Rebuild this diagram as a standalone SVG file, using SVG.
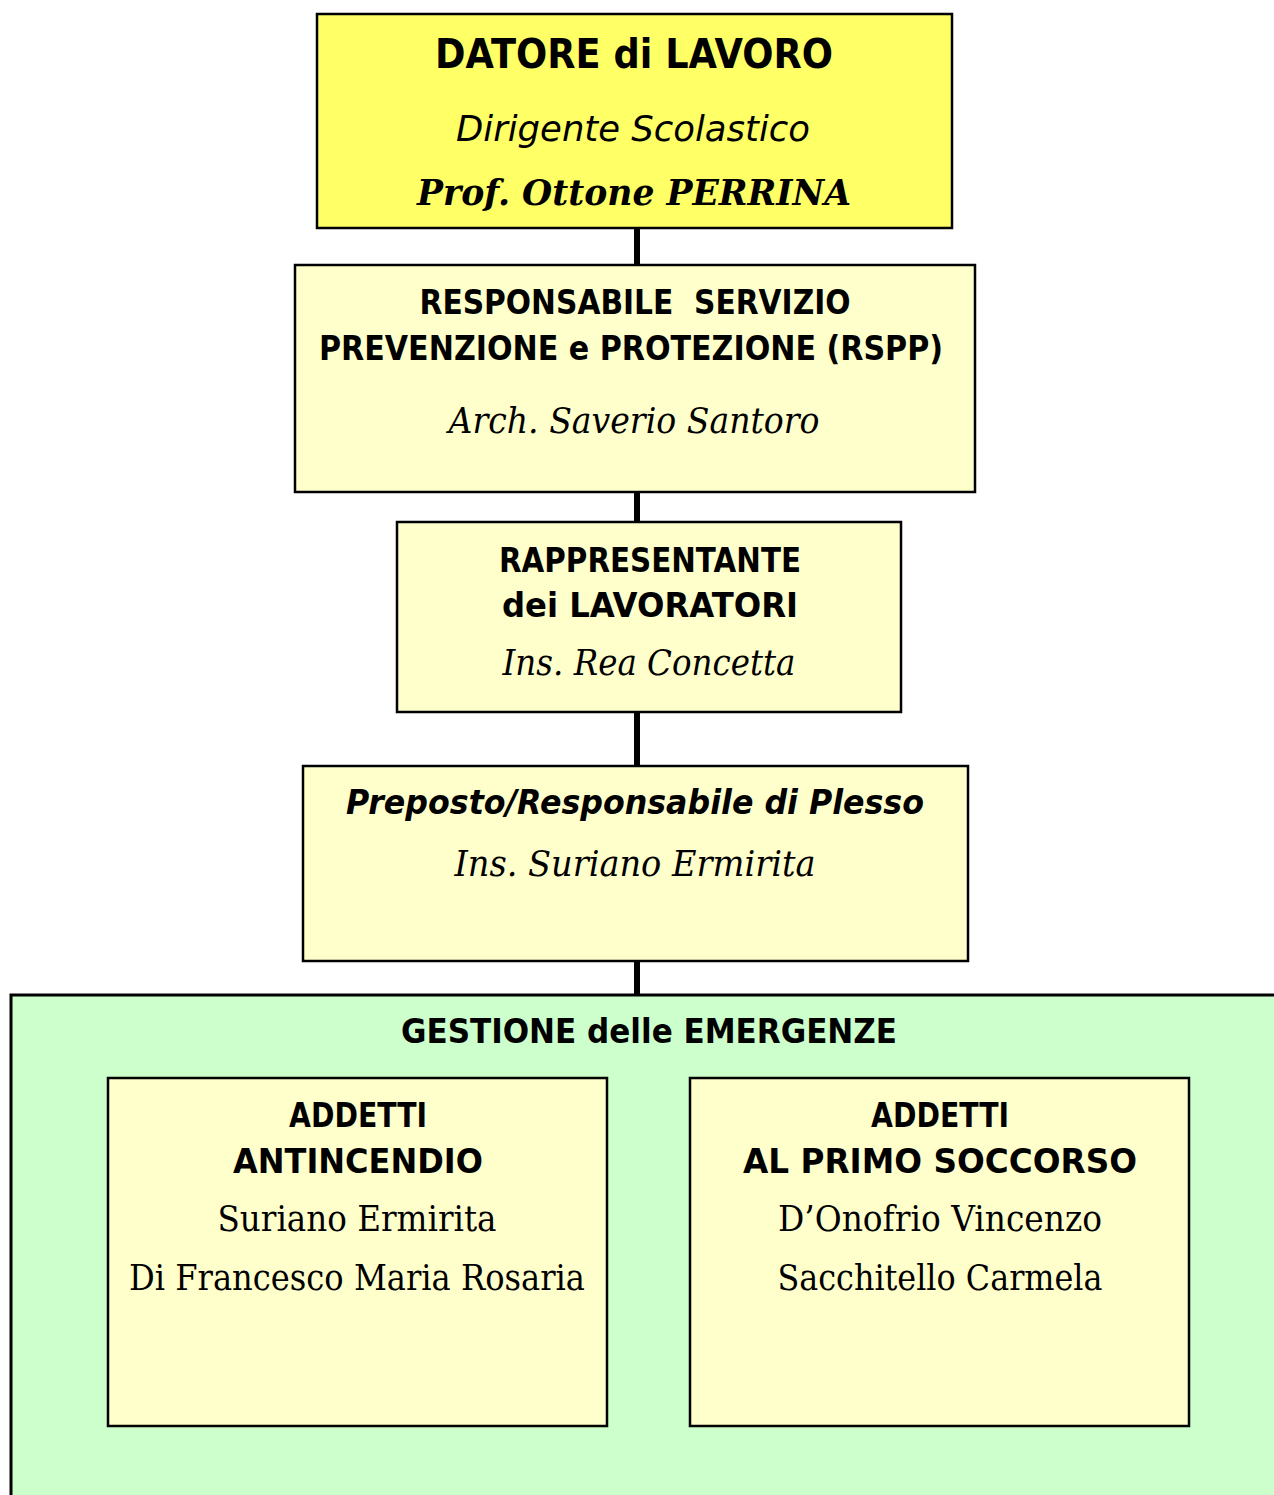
<svg xmlns="http://www.w3.org/2000/svg" width="1274" height="1495" viewBox="0 0 1274 1495">
<style>
.box{stroke:#000;stroke-width:2.5}
.y1{fill:#FFFF66}
.y2{fill:#FFFFCC}
.g{fill:#CCFFCC;stroke:#000;stroke-width:3}
.h{font-family:"DejaVu Sans","Liberation Sans",sans-serif;font-weight:bold;font-size:34px;fill:#000;text-anchor:middle}
.n{font-family:"DejaVu Serif","Liberation Serif",serif;font-size:35px;fill:#000;text-anchor:middle}
.it{font-style:italic}
.conn{stroke:#000;stroke-width:6;fill:none}
</style>
<rect x="0" y="0" width="1274" height="1495" fill="#fff"/>
<g id="connectors">
<line class="conn" x1="637" y1="228" x2="637" y2="265"/>
<line class="conn" x1="637" y1="492" x2="637" y2="522"/>
<line class="conn" x1="637" y1="712" x2="637" y2="766"/>
<line class="conn" x1="637" y1="961" x2="637" y2="995"/>
</g>
<g id="datore">
<rect class="box y1" x="317" y="14" width="635" height="214"/>
<text class="h" x="634" y="68" textLength="398" lengthAdjust="spacingAndGlyphs" style="font-size:41px">DATORE di LAVORO</text>
<text class="h it" x="633" y="141" textLength="354" lengthAdjust="spacingAndGlyphs" style="font-weight:normal;font-size:36px">Dirigente Scolastico</text>
<text class="n it" x="634" y="205" textLength="434" lengthAdjust="spacingAndGlyphs" style="font-weight:bold">Prof. Ottone PERRINA</text>
</g>
<g id="rspp">
<rect class="box y2" x="295" y="265" width="680" height="227"/>
<text class="h" x="635" y="314" textLength="431" lengthAdjust="spacingAndGlyphs" xml:space="preserve">RESPONSABILE  SERVIZIO</text>
<text class="h" x="631" y="360" textLength="624" lengthAdjust="spacingAndGlyphs">PREVENZIONE e PROTEZIONE (RSPP)</text>
<text class="n it" x="634" y="433" textLength="371" lengthAdjust="spacingAndGlyphs">Arch. Saverio Santoro</text>
</g>
<g id="rappresentante">
<rect class="box y2" x="397" y="522" width="504" height="190"/>
<text class="h" x="650" y="572" textLength="302" lengthAdjust="spacingAndGlyphs">RAPPRESENTANTE</text>
<text class="h" x="650" y="617" textLength="296" lengthAdjust="spacingAndGlyphs">dei LAVORATORI</text>
<text class="n it" x="649" y="675" textLength="293" lengthAdjust="spacingAndGlyphs">Ins. Rea Concetta</text>
</g>
<g id="preposto">
<rect class="box y2" x="303" y="766" width="665" height="195"/>
<text class="h it" x="635" y="814" textLength="578" lengthAdjust="spacingAndGlyphs">Preposto/Responsabile di Plesso</text>
<text class="n it" x="635" y="876" textLength="361" lengthAdjust="spacingAndGlyphs">Ins. Suriano Ermirita</text>
</g>
<g id="emergenze">
<rect class="g" x="11" y="995" width="1290" height="540"/>
<text class="h" x="649" y="1043" textLength="496" lengthAdjust="spacingAndGlyphs">GESTIONE delle EMERGENZE</text>
</g>
<g id="antincendio">
<rect class="box y2" x="108" y="1078" width="499" height="348"/>
<text class="h" x="358" y="1127" textLength="138" lengthAdjust="spacingAndGlyphs">ADDETTI</text>
<text class="h" x="358" y="1173" textLength="250" lengthAdjust="spacingAndGlyphs">ANTINCENDIO</text>
<text class="n" x="357" y="1231" textLength="279" lengthAdjust="spacingAndGlyphs">Suriano Ermirita</text>
<text class="n" x="357" y="1290" textLength="456" lengthAdjust="spacingAndGlyphs">Di Francesco Maria Rosaria</text>
</g>
<g id="primosoccorso">
<rect class="box y2" x="690" y="1078" width="499" height="348"/>
<text class="h" x="940" y="1127" textLength="138" lengthAdjust="spacingAndGlyphs">ADDETTI</text>
<text class="h" x="940" y="1173" textLength="394" lengthAdjust="spacingAndGlyphs">AL PRIMO SOCCORSO</text>
<text class="n" x="940" y="1231" textLength="324" lengthAdjust="spacingAndGlyphs">D’Onofrio Vincenzo</text>
<text class="n" x="940" y="1290" textLength="325" lengthAdjust="spacingAndGlyphs">Sacchitello Carmela</text>
</g>
</svg>
